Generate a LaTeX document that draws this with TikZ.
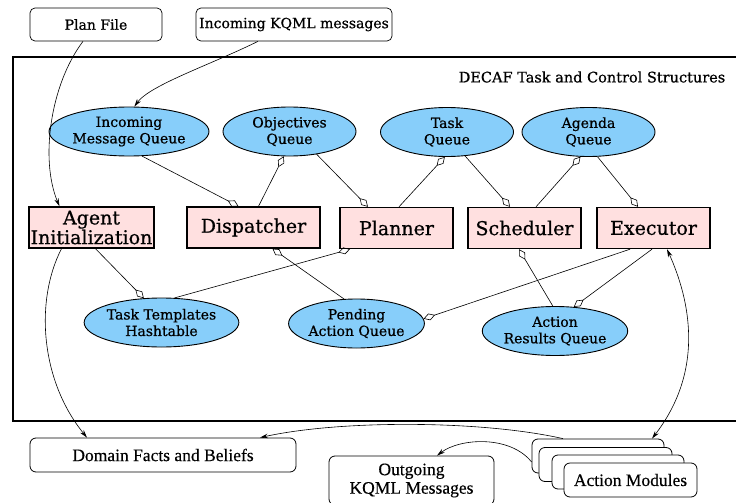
\documentclass[tikz,border=0pt]{standalone}
\usepackage{fontspec}
\usetikzlibrary{arrows.meta,shapes.geometric}
\newfontfamily\gvfont[FakeBold=0.7]{DejaVu Serif}
\newfontfamily\tmfont[FakeBold=0.3]{Liberation Serif}
\definecolor{qblue}{RGB}{135,206,250}
\definecolor{procpink}{RGB}{255,224,224}
\begin{document}
\begin{tikzpicture}[x=1pt,y=-1pt,
  queue/.style={ellipse, draw, line width=0.9pt, fill=qblue, minimum width=133pt, minimum height=49pt, inner sep=0pt, align=center, font=\gvfont\fontsize{14}{16.5}\selectfont},
  proc/.style={rectangle, draw, line width=1.4pt, fill=procpink, minimum height=41pt, inner sep=0pt, align=center, font=\gvfont\fontsize{19}{16}\selectfont},
  topbox/.style={rectangle, rounded corners=5pt, draw, line width=0.7pt, minimum height=33pt, inner sep=0pt, font=\gvfont\fontsize{14}{16}\selectfont},
  botbox/.style={rectangle, rounded corners=6pt, draw, line width=0.8pt, fill=white, minimum height=34pt, inner sep=0pt, align=center, font=\tmfont\fontsize{17.5}{18.5}\selectfont},
  titletext/.style={font=\gvfont\fontsize{14.5}{16}\selectfont},
  dia/.style={-{Diamond[open,length=12pt,width=7pt]}, line width=0.6pt},
  arr/.style={-{Stealth[length=8pt,width=4.5pt]}, line width=0.6pt},
  biarr/.style={{Stealth[length=8pt,width=4.5pt]}-{Stealth[length=8pt,width=4.5pt]}, line width=0.6pt},
  frame/.style={line width=1.4pt},
]
\useasboundingbox (0,0) rectangle (736,503);
% outer frame
\draw[frame] (13,57) rectangle (745,421);
% top boxes
\node[topbox, minimum width=132pt] (pf) at (96,24.5) {Plan File};
\node[topbox, minimum width=196pt] (ik) at (294,24.5) {Incoming KQML messages};
\node[titletext] (title) at (592,77) {DECAF Task and Control Structures};
% queues
\node[queue] (imq) at (129,131.5) {Incoming\\Message Queue};
\node[queue] (obj) at (289.5,131.5) {Objectives\\Queue};
\node[queue] (tq) at (447,132) {Task\\Queue};
\node[queue] (aq) at (588.5,132) {Agenda\\Queue};
\node[queue] (tth) at (161.5,322.5) {Task Templates\\Hashtable};
\node[queue] (paq) at (356.5,323.5) {Pending\\Action Queue};
\node[queue] (arq) at (555,331) {Action\\Results Queue};
% processes
\node[proc, minimum width=125pt] (ai) at (91.5,227.5) {Agent\\Initialization};
\node[proc, minimum width=133pt] (disp) at (253.5,227.5) {Dispatcher};
\node[proc, minimum width=113pt] (plan) at (396.5,228) {Planner};
\node[proc, minimum width=113pt] (sched) at (524.5,228) {Scheduler};
\node[proc, minimum width=113pt] (exec) at (653.5,228) {Executor};
% bottom boxes
\node[botbox, minimum width=266pt] (df) at (163,455) {Domain Facts and Beliefs};
\node[botbox, minimum width=165pt, minimum height=49pt] (og) at (411.5,480.5) {Outgoing\\KQML Messages};
\node[botbox, minimum width=132pt] (am1) at (598,456) {};
\node[botbox, minimum width=133pt] (am2) at (605.5,464.5) {};
\node[botbox, minimum width=132pt] (am3) at (618,472) {};
\node[botbox, minimum width=133pt] (am4) at (630.5,480) {Action Modules};
% connectors
\draw[arr] ([xshift=-13pt]pf.south) .. controls (50,85) and (40,160) .. ([xshift=-32pt]ai.north);
\draw[arr] ([xshift=-36pt]ik.south) .. controls (210,65) and (150,85) .. (imq.78);
\draw[dia] (imq.-62) -- ([xshift=-15pt]disp.north);
\draw[dia] ([xshift=5pt]disp.north) -- (obj.-103);
\draw[dia] (obj.-40) -- ([xshift=-28.5pt]plan.north);
\draw[dia] ([xshift=2.5pt]plan.north) -- (tq.-95);
\draw[dia] (tq.-53) -- ([xshift=-14.5pt]sched.north);
\draw[dia] ([xshift=11.5pt]sched.north) -- (aq.-108);
\draw[dia] (aq.-70) -- ([xshift=-15.5pt]exec.north);
\draw[dia] ([xshift=4pt]ai.south) -- (tth.126);
\draw[dia] (tth.62) -- ([xshift=-46.5pt]plan.south);
\draw[dia] (paq.117) -- ([xshift=19pt]disp.south);
\draw[dia] ([xshift=-23.5pt]exec.south) -- (paq.4);
\draw[dia] (arq.95) -- ([xshift=-5.5pt]sched.south);
\draw[dia] ([xshift=-1.5pt]exec.south) -- (arq.52);
\draw[biarr] ([xshift=13.5pt]exec.south) .. controls (690,300) and (705,370) .. ([xshift=54pt]am1.north);
\draw[arr] ([xshift=-30pt]ai.south) .. controls (35,300) and (40,380) .. ([xshift=-76pt]df.north);
\draw[arr] ([xshift=-35pt]am1.north) .. controls (480,420) and (340,420) .. ([xshift=97pt]df.north);
\draw[arr] ([yshift=-6pt]am1.west) .. controls (510,435) and (460,438) .. ([xshift=25.5pt]og.north);
\end{tikzpicture}
\end{document}
